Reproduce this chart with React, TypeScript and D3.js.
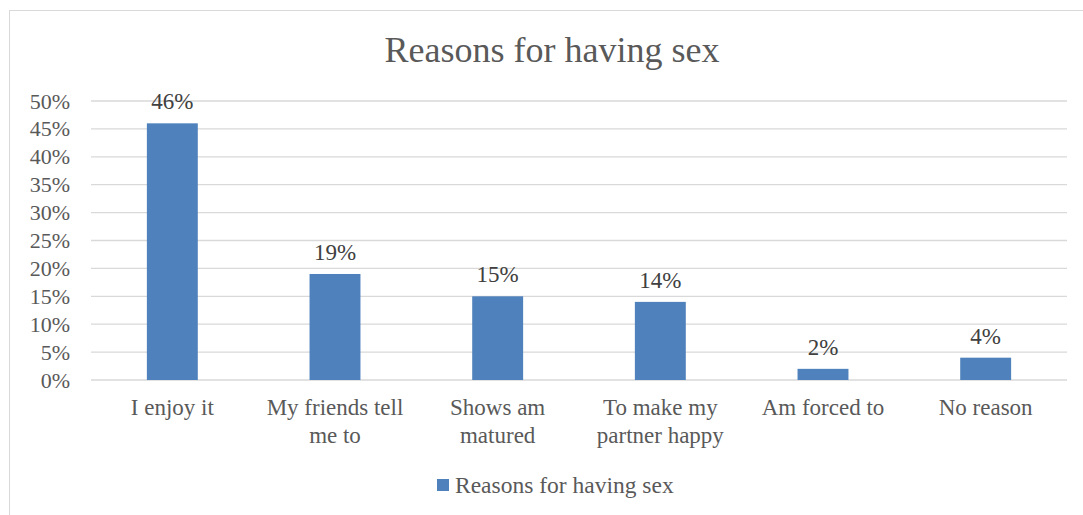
import React from "react";
import * as d3 from "d3";

const title = "Reasons for having sex";
const seriesName = "Reasons for having sex";
const categories = [
  ["I enjoy it"],
  ["My friends tell", "me to"],
  ["Shows am", "matured"],
  ["To make my", "partner happy"],
  ["Am forced to"],
  ["No reason"],
];
const values = [0.46, 0.19, 0.15, 0.14, 0.02, 0.04];
const yTicks = [0, 0.05, 0.1, 0.15, 0.2, 0.25, 0.3, 0.35, 0.4, 0.45, 0.5];

const W = 1083;
const H = 515;
const FONT = "'Liberation Serif', 'Times New Roman', serif";
const TEXT = "#595959";

export default function App() {
  const plotLeft = 91;
  const plotRight = 1067;
  const y0 = 380;
  const yTop = 101;
  const x = d3
    .scaleBand<number>()
    .domain(values.map((_, i) => i))
    .range([plotLeft, plotRight])
    .paddingInner(0.687)
    .paddingOuter(0.3435);
  const y = d3.scaleLinear().domain([0, 0.5]).range([y0, yTop]);
  const fmt = d3.format(".0%");

  return (
    <svg
      width={W}
      height={H}
      style={{ position: "absolute", left: 0, top: 0, background: "#fff" }}
      fontFamily={FONT}
    >
      <rect x={9.5} y={10.5} width={1090} height={520} fill="#fff" stroke="#D9D9D9" strokeWidth={1} />
      <text x={552} y={62} textAnchor="middle" fontSize={36} fill={TEXT}>
        {title}
      </text>
      {yTicks.map((t) => (
        <g key={t}>
          <line x1={plotLeft} x2={plotRight} y1={y(t)} y2={y(t)} stroke="#D9D9D9" strokeWidth={1.3} />
          <text x={70} y={y(t) + 7.5} textAnchor="end" fontSize={22} fill={TEXT}>
            {fmt(t)}
          </text>
        </g>
      ))}
      {values.map((v, i) => (
        <g key={i}>
          <rect x={x(i)} y={y(v)} width={x.bandwidth()} height={y0 - y(v)} fill="#4F81BD" />
          <text
            x={(x(i) as number) + x.bandwidth() / 2}
            y={y(v) - 14}
            textAnchor="middle"
            fontSize={23}
            fill="#404040"
          >
            {fmt(v)}
          </text>
          <text
            x={(x(i) as number) + x.bandwidth() / 2}
            y={415}
            textAnchor="middle"
            fontSize={23}
            fill={TEXT}
          >
            {categories[i].map((line, j) => (
              <tspan key={j} x={(x(i) as number) + x.bandwidth() / 2} dy={j === 0 ? 0 : 28}>
                {line}
              </tspan>
            ))}
          </text>
        </g>
      ))}
      <rect x={437} y={479} width={12} height={12} fill="#4F81BD" />
      <text x={455} y={493} fontSize={23.5} fill={TEXT}>
        {seriesName}
      </text>
    </svg>
  );
}
